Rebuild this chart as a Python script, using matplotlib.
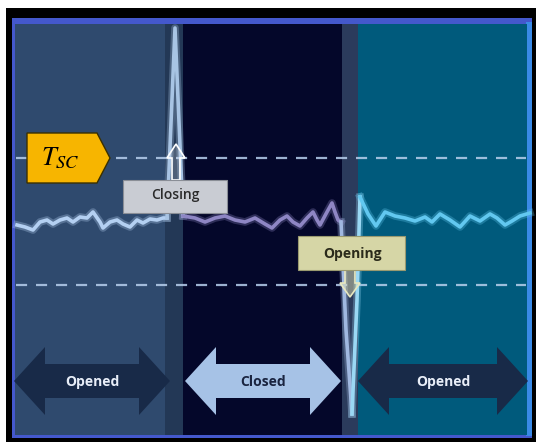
import matplotlib
matplotlib.use("Agg")
import matplotlib.pyplot as plt
from matplotlib.patches import Rectangle, Polygon

plt.rcParams["mathtext.fontset"] = "stix"

# ---- data (signal trace, in picture units: x = time position, y = level) ----
open1_x = [17, 25, 33, 40, 47, 53, 60, 67, 73, 80, 87, 93, 100, 103, 110, 117,
           123, 130, 137, 143, 150, 157, 163, 167]
open1_y = [225, 227, 230, 222, 220, 224, 220, 218, 222, 217, 218, 212, 222, 228,
           222, 220, 224, 227, 220, 223, 219, 220, 218, 218]
spike_x = [167, 175, 183]
spike_y = [218, 28, 216]
closed_x = [183, 195, 205, 215, 225, 235, 245, 255, 265, 272, 280, 287, 293, 300,
            307, 313, 317, 320, 327, 332, 335, 338, 341]
closed_y = [216, 218, 222, 218, 216, 220, 222, 218, 224, 228, 220, 216, 222, 226,
            218, 212, 220, 225, 212, 203, 212, 220, 222]
drop_x = [341, 346, 352, 357, 360]
drop_y = [222, 330, 414, 300, 197]
open2_x = [360, 368, 376, 385, 395, 405, 415, 425, 432, 440, 450, 460, 470, 480,
           490, 497, 505, 512, 520, 530]
open2_y = [197, 214, 226, 212, 216, 218, 221, 217, 222, 214, 220, 227, 216, 221,
           214, 218, 225, 221, 216, 213]

threshold_levels = [158, 285]
state_labels = ["Opened", "Closed", "Opened"]
event_labels = ["Closing", "Opening"]

W, H = 536, 444
fig = plt.figure(figsize=(W / 100, H / 100), dpi=100)
ax = fig.add_axes([0, 0, 1, 1])
ax.set_xlim(0, W)
ax.set_ylim(H, 0)
ax.axis("off")
fig.patch.set_facecolor("white")

# frame
ax.add_patch(Rectangle((6, 8), 530, 434, facecolor="black", edgecolor="none", zorder=0))
ax.add_patch(Rectangle((12, 18), 520, 420, facecolor="#4458cc", edgecolor="none", zorder=0.5))
ax.add_patch(Rectangle((526, 22), 6, 414, facecolor="#3a8ae6", edgecolor="none", zorder=0.6))

# background regions
regions = [(15, 165, "#2f4a6e"), (165, 183, "#233856"), (183, 342, "#04072a"),
           (342, 358, "#2b3b5c"), (358, 527, "#005a7c")]
for x0, x1, c in regions:
    ax.add_patch(Rectangle((x0, 24), x1 - x0, 411, facecolor=c, edgecolor="none", zorder=1))

# dashed threshold lines
for yl in threshold_levels:
    ax.plot([16, 526], [yl, yl], color="#b8d0ee", lw=1.6, ls=(0, (5, 4)), alpha=0.85, zorder=2)

# signal
def trace(xs, ys, color):
    ax.plot(xs, ys, color=color, lw=5.5, alpha=0.3, solid_joinstyle="round", zorder=3)
    ax.plot(xs, ys, color=color, lw=2.6, solid_joinstyle="round", zorder=3.1)

trace(open1_x, open1_y, "#b4d0f2")
trace(spike_x, spike_y, "#a8c4e4")
trace(closed_x, closed_y, "#8e86c4")
trace(drop_x[:3], drop_y[:3], "#a0b8e0")
trace(drop_x[2:], drop_y[2:], "#9ad8f4")
trace(open2_x, open2_y, "#62c8f0")

# T_SC tag
ax.add_patch(Polygon([(27, 133), (97, 133), (110, 158), (97, 183), (27, 183)],
                     closed=True, facecolor="#f7b500", edgecolor="#3a3000", lw=1, zorder=5))
ax.text(60, 158, r"$T_{SC}$", fontsize=19, color="black", ha="center", va="center", zorder=6)

# Closing callout
ax.add_patch(Polygon([(172, 180), (172, 158), (167, 158), (176, 144), (185, 158), (180, 158), (180, 180)],
                     closed=True, facecolor=(1, 1, 1, 0.2), edgecolor="white", lw=1.2, zorder=5))
ax.add_patch(Rectangle((123, 180), 104, 33, facecolor="#c9ccd3", edgecolor="#8a8e96", lw=0.8, zorder=5))
ax.text(175, 195, event_labels[0], fontsize=10, color="#2a2a2a", ha="center", va="center",
        family="Open Sans", fontweight="semibold", zorder=6)

# Opening callout
ax.add_patch(Polygon([(345, 270), (345, 283), (340, 283), (350, 297), (360, 283), (355, 283), (355, 270)],
                     closed=True, facecolor=(0.9, 0.9, 0.7, 0.45), edgecolor="#e8e8c0", lw=1.2, zorder=5))
ax.add_patch(Rectangle((298, 236), 107, 34, facecolor="#d6d6a6", edgecolor="#9a9a70", lw=0.8, zorder=5))
ax.text(352, 254, event_labels[1], fontsize=10, color="#2a2a1a", ha="center", va="center",
        family="Open Sans", fontweight="bold", zorder=6)

# double arrows
def double_arrow(x0, x1, yc, color, label, tcolor):
    h, hh, sh = 31, 34, 17
    pts = [(x0, yc), (x0 + h, yc - hh), (x0 + h, yc - sh), (x1 - h, yc - sh), (x1 - h, yc - hh),
           (x1, yc), (x1 - h, yc + hh), (x1 - h, yc + sh), (x0 + h, yc + sh), (x0 + h, yc + hh)]
    ax.add_patch(Polygon(pts, closed=True, facecolor=color, edgecolor="none", zorder=5))
    ax.text((x0 + x1) / 2, yc + 1, label, fontsize=10, fontweight="bold", color=tcolor,
            ha="center", va="center", family="Open Sans", zorder=6)

double_arrow(14, 170, 381, "#182a48", state_labels[0], "#e8eef8")
double_arrow(185, 341, 381, "#a6c2e6", state_labels[1], "#1a2440")
double_arrow(358, 528, 381, "#182a48", state_labels[2], "#e8eef8")

fig.savefig("out.png", dpi=100)
